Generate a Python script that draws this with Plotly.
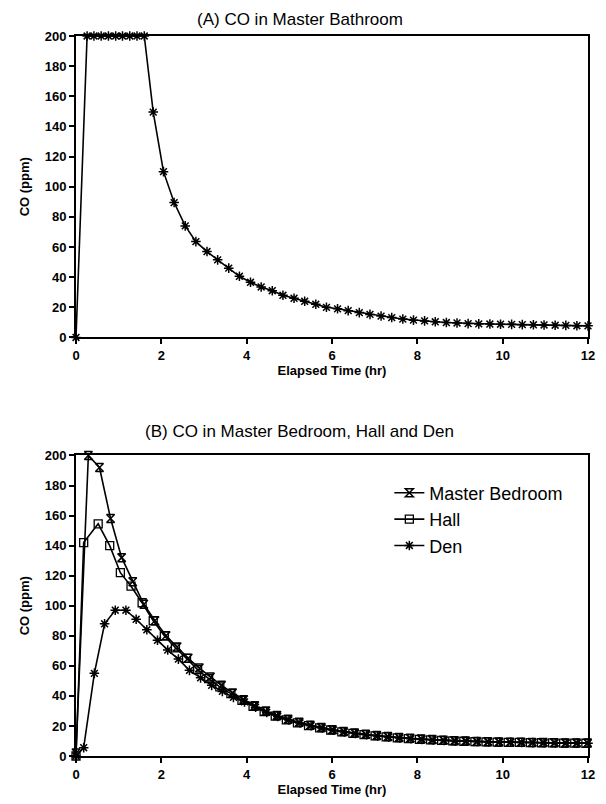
import plotly.graph_objects as go

# ---------------- data ----------------
# (A) Master Bathroom
bath_t = [0, 0.26, 0.42, 0.59, 0.76, 0.93, 1.09, 1.26, 1.43, 1.6,
          1.81, 2.05, 2.3, 2.56, 2.81, 3.07, 3.32, 3.58, 3.83, 4.09,
          4.34, 4.6, 4.85, 5.11, 5.36, 5.62, 5.87, 6.13, 6.38, 6.64,
          6.89, 7.15, 7.4, 7.66, 7.91, 8.17, 8.42, 8.68, 8.93, 9.19,
          9.44, 9.7, 9.95, 10.21, 10.46, 10.72, 10.97, 11.23, 11.48, 11.74, 12.0]
bath_co = [0, 200, 200, 200, 200, 200, 200, 200, 200, 200,
           149.5, 110, 89.5, 74, 63.6, 57, 51.5, 46, 40.6, 36.6,
           33.5, 31, 28, 26, 24, 22, 20, 19, 17.8, 16.5,
           15.3, 14.2, 13.2, 12.2, 11.5, 11, 10.4, 9.9, 9.6, 9.2,
           9.0, 8.9, 8.8, 8.7, 8.5, 8.4, 8.3, 8.1, 8.0, 7.8, 7.7]

# (B) Master Bedroom
bed_t = [0, 0.29, 0.55, 0.81, 1.07, 1.33, 1.59, 1.85, 2.11, 2.37,
         2.63, 2.89, 3.15, 3.41, 3.67, 3.93, 4.19, 4.45, 4.71, 4.97,
         5.23, 5.49, 5.75, 6.01, 6.27, 6.53, 6.79, 7.05, 7.31, 7.57,
         7.83, 8.09, 8.35, 8.61, 8.87, 9.13, 9.39, 9.65, 9.91, 10.17,
         10.43, 10.69, 10.95, 11.21, 11.47, 11.73, 11.99]
bed_co = [2, 200, 192, 158, 132, 116, 101, 90, 80, 72.5,
          65, 58.5, 52.5, 47, 42, 37.5, 33.5, 30, 27, 24.5,
          22.5, 20.5, 19, 17.5, 16.3, 15.3, 14.4, 13.6, 12.9, 12.3,
          11.8, 11.3, 10.9, 10.5, 10.2, 9.9, 9.7, 9.5, 9.3, 9.2,
          9.1, 9.0, 8.9, 8.8, 8.7, 8.7, 8.6]

# Hall
hall_t = [0, 0.18, 0.52, 0.79, 1.04, 1.29, 1.55, 1.81, 2.07, 2.33,
          2.59, 2.85, 3.11, 3.37, 3.63, 3.89, 4.15, 4.41, 4.67, 4.93,
          5.19, 5.45, 5.71, 5.97, 6.23, 6.49, 6.75, 7.01, 7.27, 7.53,
          7.79, 8.05, 8.31, 8.57, 8.83, 9.09, 9.35, 9.61, 9.87, 10.13,
          10.39, 10.65, 10.91, 11.17, 11.43, 11.69, 11.95]
hall_co = [0, 142, 154.5, 140, 122, 113, 102, 90, 80, 72,
           65, 57.5, 51.5, 46, 41.5, 37, 33, 29.5, 26.5, 24,
           22, 20.2, 18.7, 17.3, 16.1, 15.1, 14.2, 13.4, 12.7, 12.1,
           11.6, 11.1, 10.7, 10.4, 10.1, 9.8, 9.6, 9.4, 9.2, 9.1,
           9.0, 8.9, 8.8, 8.7, 8.6, 8.6, 8.5]

# Den
den_t = [0, 0.18, 0.43, 0.67, 0.92, 1.17, 1.41, 1.66, 1.91, 2.15,
         2.4, 2.66, 2.92, 3.18, 3.43, 3.69, 3.95, 4.21, 4.47, 4.73,
         4.99, 5.25, 5.51, 5.77, 6.03, 6.29, 6.55, 6.81, 7.07, 7.33,
         7.59, 7.85, 8.11, 8.37, 8.63, 8.89, 9.15, 9.41, 9.67, 9.93,
         10.19, 10.45, 10.71, 10.97, 11.23, 11.49, 11.75, 12.0]
den_co = [0, 5.5, 55, 88, 97, 97, 91, 84, 77, 70.5,
          64.5, 57, 52, 47, 43, 39, 36, 32.5, 29, 26.3,
          24, 22, 20.2, 18.6, 17.2, 16, 15, 14.1, 13.3, 12.6,
          12, 11.5, 11, 10.6, 10.3, 10, 9.8, 9.6, 9.4, 9.2,
          9.1, 9.0, 8.9, 8.8, 8.7, 8.6, 8.6, 8.5]

x_ticks = [0, 2, 4, 6, 8, 10, 12]
y_ticks = [0, 20, 40, 60, 80, 100, 120, 140, 160, 180, 200]

title_a = "(A) CO in Master Bathroom"
title_b = "(B) CO in Master Bedroom, Hall and Den"
x_title = "Elapsed Time (hr)"
y_title = "CO (ppm)"

# ---------------- figure ----------------
FONT = "Liberation Sans, Arial, sans-serif"
LINE = dict(color="black", width=1.6)

fig = go.Figure()

fig.add_trace(go.Scatter(
    x=bath_t, y=bath_co, mode="lines+markers", line=LINE,
    marker=dict(symbol="asterisk-open", size=8, line=dict(color="black", width=1.5)),
    showlegend=False, cliponaxis=False, xaxis="x", yaxis="y"))

fig.add_trace(go.Scatter(
    x=bed_t, y=bed_co, mode="lines+markers", line=LINE, name="Master Bedroom",
    marker=dict(symbol="hourglass-open", size=8, color="black",
                line=dict(color="black", width=1.5)),
    cliponaxis=False, xaxis="x2", yaxis="y2"))

fig.add_trace(go.Scatter(
    x=hall_t, y=hall_co, mode="lines+markers", line=LINE, name="Hall",
    marker=dict(symbol="square-open", size=8, color="black",
                line=dict(color="black", width=1.3)),
    cliponaxis=False, xaxis="x2", yaxis="y2"))

fig.add_trace(go.Scatter(
    x=den_t, y=den_co, mode="lines+markers", line=LINE, name="Den",
    marker=dict(symbol="asterisk-open", size=8, color="black",
                line=dict(color="black", width=1.5)),
    cliponaxis=False, xaxis="x2", yaxis="y2"))

axis_common = dict(
    showline=True, linecolor="black", linewidth=2, mirror=True,
    ticks="outside", ticklen=5, tickwidth=1.5, tickcolor="black",
    showgrid=False, zeroline=False,
    tickfont=dict(family=FONT, size=13, color="black", weight="bold"),
    title_font=dict(family=FONT, size=13, color="black", weight="bold"),
)

# The page body has an 8px default margin, so the figure is 8px smaller
fig.update_layout(
    width=598, height=796,
    margin=dict(l=68, r=11, t=28, b=42),
    paper_bgcolor="white", plot_bgcolor="white",
    font=dict(family=FONT, color="black"),
    xaxis=dict(domain=[0, 1], range=[0, 12], tickvals=x_ticks, anchor="y",
               title=dict(text=x_title, standoff=2), **axis_common),
    yaxis=dict(domain=[0.5813, 1], range=[0, 200], tickvals=y_ticks, anchor="x",
               title=dict(text=y_title, standoff=12), **axis_common),
    xaxis2=dict(domain=[0, 1], range=[0, 12], tickvals=x_ticks, anchor="y2",
                title=dict(text=x_title, standoff=2), **axis_common),
    yaxis2=dict(domain=[0, 0.4174], range=[0, 200], tickvals=y_ticks, anchor="x2",
                title=dict(text=y_title, standoff=12), **axis_common),
    legend=dict(x=0.612, y=0.391, xanchor="left", yanchor="top",
                bgcolor="rgba(0,0,0,0)", itemwidth=30,
                font=dict(family=FONT, size=18, color="black")),
    annotations=[
        dict(text=title_a, xref="paper", yref="paper", x=0.4374, y=1.0234,
             xanchor="center", yanchor="middle", showarrow=False,
             font=dict(family=FONT, size=17, color="black")),
        dict(text=title_b, xref="paper", yref="paper", x=0.4374, y=0.4504,
             xanchor="center", yanchor="middle", showarrow=False,
             font=dict(family=FONT, size=17, color="black")),
    ],
)

fig.write_html("out.html")
